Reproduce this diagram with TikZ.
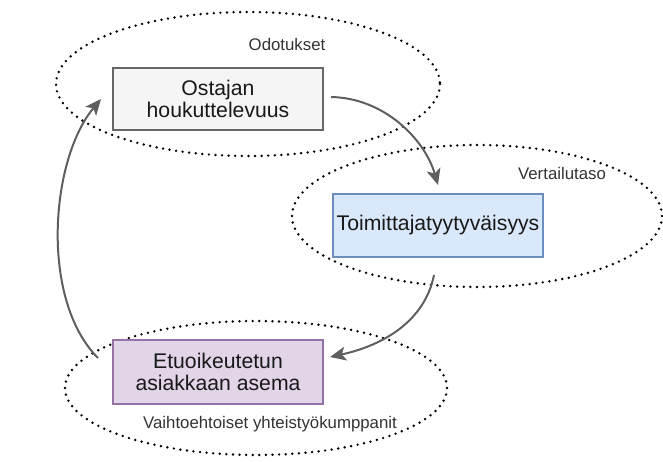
\documentclass[tikz,border=0pt]{standalone}
\usepackage{fontspec}
\setmainfont{Liberation Sans}
\usetikzlibrary{arrows.meta}
\definecolor{g1f}{HTML}{F5F5F5}\definecolor{g1d}{HTML}{666666}
\definecolor{b1f}{HTML}{DAE8FC}\definecolor{b1d}{HTML}{6C8EBF}
\definecolor{p1f}{HTML}{E1D5E7}\definecolor{p1d}{HTML}{9673A6}
\definecolor{arr}{HTML}{5F5F5F}
\begin{document}
\begin{tikzpicture}[x=1pt,y=-1pt,
  dotell/.style={draw=black,line width=2.7pt,line cap=round,dash pattern=on 0pt off 6.6pt},
  boxs/.style={draw,line width=1.5pt,minimum width=210pt,minimum height=62pt,inner sep=0pt,align=center,font=\fontsize{21.2}{22.5}\selectfont,text=black!90},
  lab/.style={font=\fontsize{16.8}{18}\selectfont,text=black!80,inner sep=0pt},
  conn/.style={draw=arr,line width=2pt,-{Stealth[length=16pt,width=14pt,inset=4pt]}}]
\useasboundingbox (0,0) rectangle (663,461);
% ellipses
\draw[dotell] (248,84) ellipse [x radius=192,y radius=72];
\draw[dotell] (477,216) ellipse [x radius=185,y radius=71];
\draw[dotell] (256,388) ellipse [x radius=191,y radius=67];
% labels
\node[lab] (l1) at (287,44) {Odotukset};
\node[lab] (l2) at (562,173) {Vertailutaso};
\node[lab] (l3) at (270,424) {Vaihtoehtoiset yhteistyökumppanit};
% boxes
\node[boxs,fill=g1f,draw=g1d] (b1) at (218,99) {Ostajan\\houkuttelevuus};
\node[boxs,fill=b1f,draw=b1d,minimum height=63pt] (b2) at (438,225.5) {Toimittajatyytyväisyys};
\node[boxs,fill=p1f,draw=p1d,minimum height=64pt] (b3) at (218,372) {Etuoikeutetun\\asiakkaan asema};
% connector ends
\coordinate (s1) at (331,97);
\coordinate (e1) at (438,185);
\coordinate (s2) at (434,275);
\coordinate (e2) at (330,357);
\coordinate (s3) at (98,358);
\coordinate (e3) at (101,99);
\draw[conn] (s1) .. controls (385,98) and (425,140) .. (e1);
\draw[conn] (s2) .. controls (425,320) and (385,345) .. (e2);
\draw[conn] (s3) .. controls (40,300) and (50,160) .. (e3);
\end{tikzpicture}
\end{document}
